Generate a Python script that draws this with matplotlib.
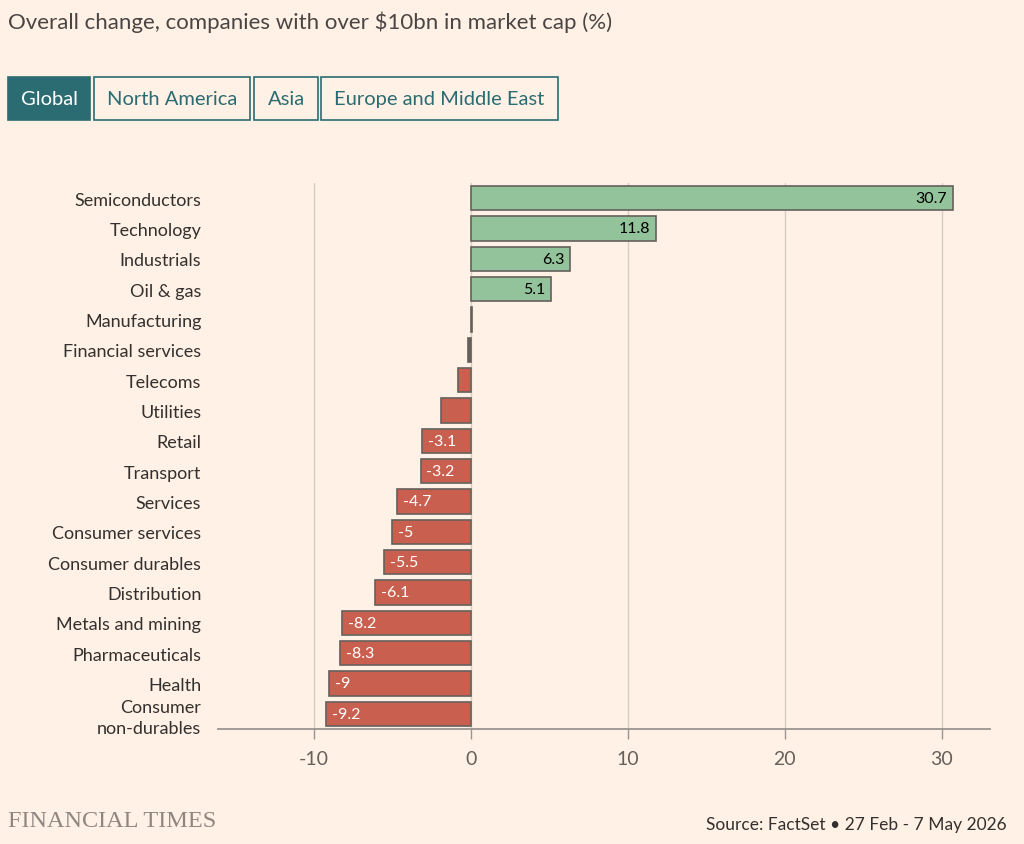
import matplotlib.pyplot as plt
from matplotlib.patches import Rectangle

sectors = ["Semiconductors", "Technology", "Industrials", "Oil & gas", "Manufacturing",
           "Financial services", "Telecoms", "Utilities", "Retail", "Transport", "Services",
           "Consumer services", "Consumer durables", "Distribution", "Metals and mining",
           "Pharmaceuticals", "Health", "Consumer\nnon-durables"]
change = [30.7, 11.8, 6.3, 5.1, 0.1, -0.15, -0.8, -1.9, -3.1, -3.2, -4.7,
          -5, -5.5, -6.1, -8.2, -8.3, -9, -9.2]
tabs = ["Global", "North America", "Asia", "Europe and Middle East"]
xticks = [-10, 0, 10, 20, 30]

bg = "#FFF1E5"
green = "#93C39A"
red = "#C9604F"
edge = "#66605C"
teal = "#2B6C72"
txt = "#33302E"

plt.rcParams['font.family'] = ['Lato', 'DejaVu Sans']

fig = plt.figure(figsize=(10.24, 8.45), dpi=100, facecolor=bg)
ax = fig.add_axes([218/1024, 1-730/845, (990-218)/1024, (730-184)/845])
ax.set_facecolor(bg)

ypos = list(range(len(sectors)))
colors = []
for v in change:
    if abs(v) < 0.5:
        colors.append(edge)
    elif v > 0:
        colors.append(green)
    else:
        colors.append(red)
ax.barh(ypos, change, height=0.8, color=colors, edgecolor=edge, linewidth=1.2, zorder=3)

# labels inside bars
for y, v in zip(ypos, change):
    if abs(v) < 2.5:
        continue
    s = "%g" % v
    if v > 0:
        ax.annotate(s, (v, y), xytext=(-4, 0), textcoords="offset points",
                    ha="right", va="center", fontsize=11.5, color="#000000", zorder=4)
    else:
        ax.annotate(s, (v, y), xytext=(4, 0), textcoords="offset points",
                    ha="left", va="center", fontsize=11.5, color="white", zorder=4)

ax.set_xlim(-16.1, 33.06)
ax.set_ylim(len(sectors) - 0.5, -0.5)
ax.set_xticks(xticks)
ax.set_xticklabels([str(t) for t in xticks], fontsize=14, color="#66605C")
ax.set_yticks(ypos)
ax.set_yticklabels(sectors, fontsize=13, color=txt, linespacing=1.35)
ax.tick_params(axis="y", length=0, pad=12)
ax.tick_params(axis="x", length=7, width=1, color="#9a9390", pad=8)
ax.grid(axis="x", color="#d5ccc4", linewidth=1, zorder=0)
for sp in ["top", "right", "left"]:
    ax.spines[sp].set_visible(False)
ax.spines["bottom"].set_color("#9a9390")
ax.spines["bottom"].set_linewidth(1.3)

fig.text(8/1024, 1-22/845, "Overall change, companies with over $10bn in market cap (%)",
         fontsize=16, color="#4a4542", va="center", ha="left")

# tab buttons
boxes = [(8, 90), (94, 250), (254, 318), (321, 558)]
for i, (name, (x0, x1)) in enumerate(zip(tabs, boxes)):
    active = i == 0
    r = Rectangle((x0/1024, 1-121/845), (x1-x0)/1024, 43/845, transform=fig.transFigure,
                  facecolor=teal if active else bg, edgecolor=teal, linewidth=1.2)
    fig.patches.append(r)
    fig.text((x0+x1)/2/1024, 1-100/845, name, ha="center", va="center", fontsize=14.5,
             color="white" if active else teal)

fig.text(8/1024, 1-822/845, "FINANCIAL TIMES", family="Liberation Serif", fontsize=17.5,
         color="#8f8680", va="center", ha="left")
fig.text(1007/1024, 1-825/845, "Source: FactSet \u2022 27 Feb - 7 May 2026", fontsize=12.5,
         color=txt, va="center", ha="right")

fig.savefig("out.png", dpi=100, facecolor=bg)
